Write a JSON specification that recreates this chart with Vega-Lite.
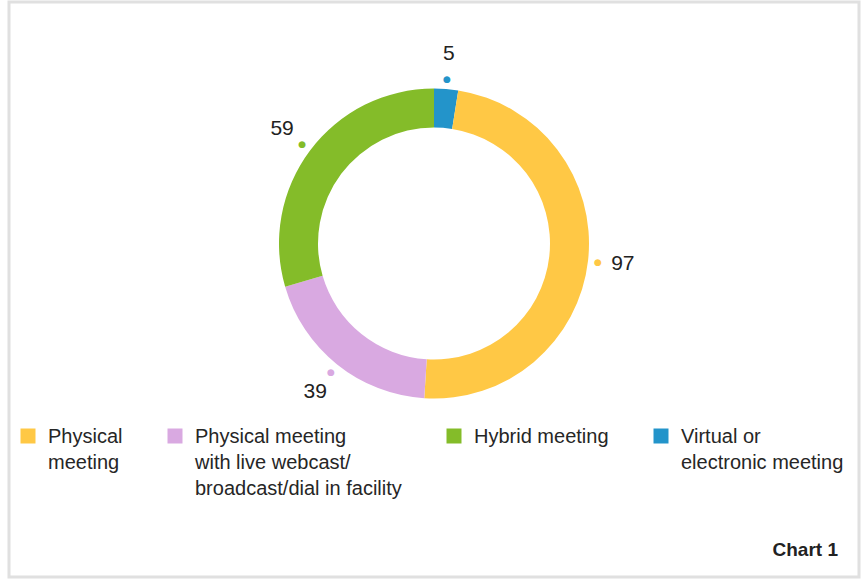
{
  "$schema": "https://vega.github.io/schema/vega-lite/v6.json",
  "width": 850,
  "height": 575,
  "padding": {"left": 9, "top": 2, "right": 7, "bottom": 6},
  "background": "white",
  "view": {"stroke": "#e0e0e0", "strokeWidth": 3},
  "config": {
    "style": {"view": {"stroke": "#e0e0e0", "strokeWidth": 3}},
    "font": "Liberation Sans"
  },
  "title": {
    "text": "Chart 1",
    "orient": "bottom",
    "anchor": "end",
    "frame": "group",
    "offset": -36,
    "dx": -21,
    "fontSize": 19,
    "fontWeight": "bold",
    "color": "#222222",
    "font": "Liberation Sans"
  },
  "data": {
    "values": [
      {"category": "Virtual or electronic meeting", "value": 5, "seq": 1},
      {"category": "Physical meeting", "value": 97, "seq": 2},
      {"category": "Physical meeting with live webcast/broadcast/dial in facility", "value": 39, "seq": 3},
      {"category": "Hybrid meeting", "value": 59, "seq": 4}
    ]
  },
  "encoding": {
    "theta": {"field": "value", "type": "quantitative", "stack": true},
    "order": {"field": "seq", "type": "quantitative"},
    "color": {
      "field": "category",
      "type": "nominal",
      "scale": {
        "domain": ["Physical meeting", "Physical meeting with live webcast/broadcast/dial in facility", "Hybrid meeting", "Virtual or electronic meeting"],
        "range": ["#FFC845", "#D9A9E1", "#84BC29", "#2394CA"]
      },
      "legend": {
        "orient": "none",
        "legendX": 9,
        "legendY": 424,
        "direction": "horizontal",
        "columns": 4,
        "columnPadding": 42,
        "padding": 0,
        "title": null,
        "symbolType": "square",
        "symbolSize": 225,
        "symbolStrokeWidth": 0,
        "symbolOpacity": 1,
        "labelFont": "Liberation Sans",
        "labelFontSize": 20,
        "labelColor": "#262626",
        "labelOffset": 10,
        "labelLimit": 400,
        "labelExpr": "datum.label == 'Physical meeting' ? ['Physical', 'meeting', ''] : datum.label == 'Hybrid meeting' ? ['Hybrid meeting', '', ''] : datum.label == 'Virtual or electronic meeting' ? ['Virtual or', 'electronic meeting', ''] : ['Physical meeting', 'with live webcast/', 'broadcast/dial in facility']",
        "encode": {"labels": {"update": {"lineHeight": {"value": 26}, "dy": {"value": 1}}}}
      }
    }
  },
  "layer": [
    {
      "mark": {"type": "arc", "innerRadius": 116, "radius": 155, "y": 241.5, "stroke": null}
    },
    {
      "mark": {"type": "text", "radius": 165, "y": 241.5, "text": "●", "font": "DejaVu Sans", "fontSize": 9, "align": "center", "baseline": "middle"}
    },
    {
      "mark": {"type": "text", "radius": 190, "y": 241.5, "fontSize": 21, "font": "Liberation Sans", "color": "#222222", "align": "center", "baseline": "middle"},
      "encoding": {
        "text": {"field": "value", "type": "quantitative"},
        "color": {"value": "#222222"}
      }
    }
  ]
}
